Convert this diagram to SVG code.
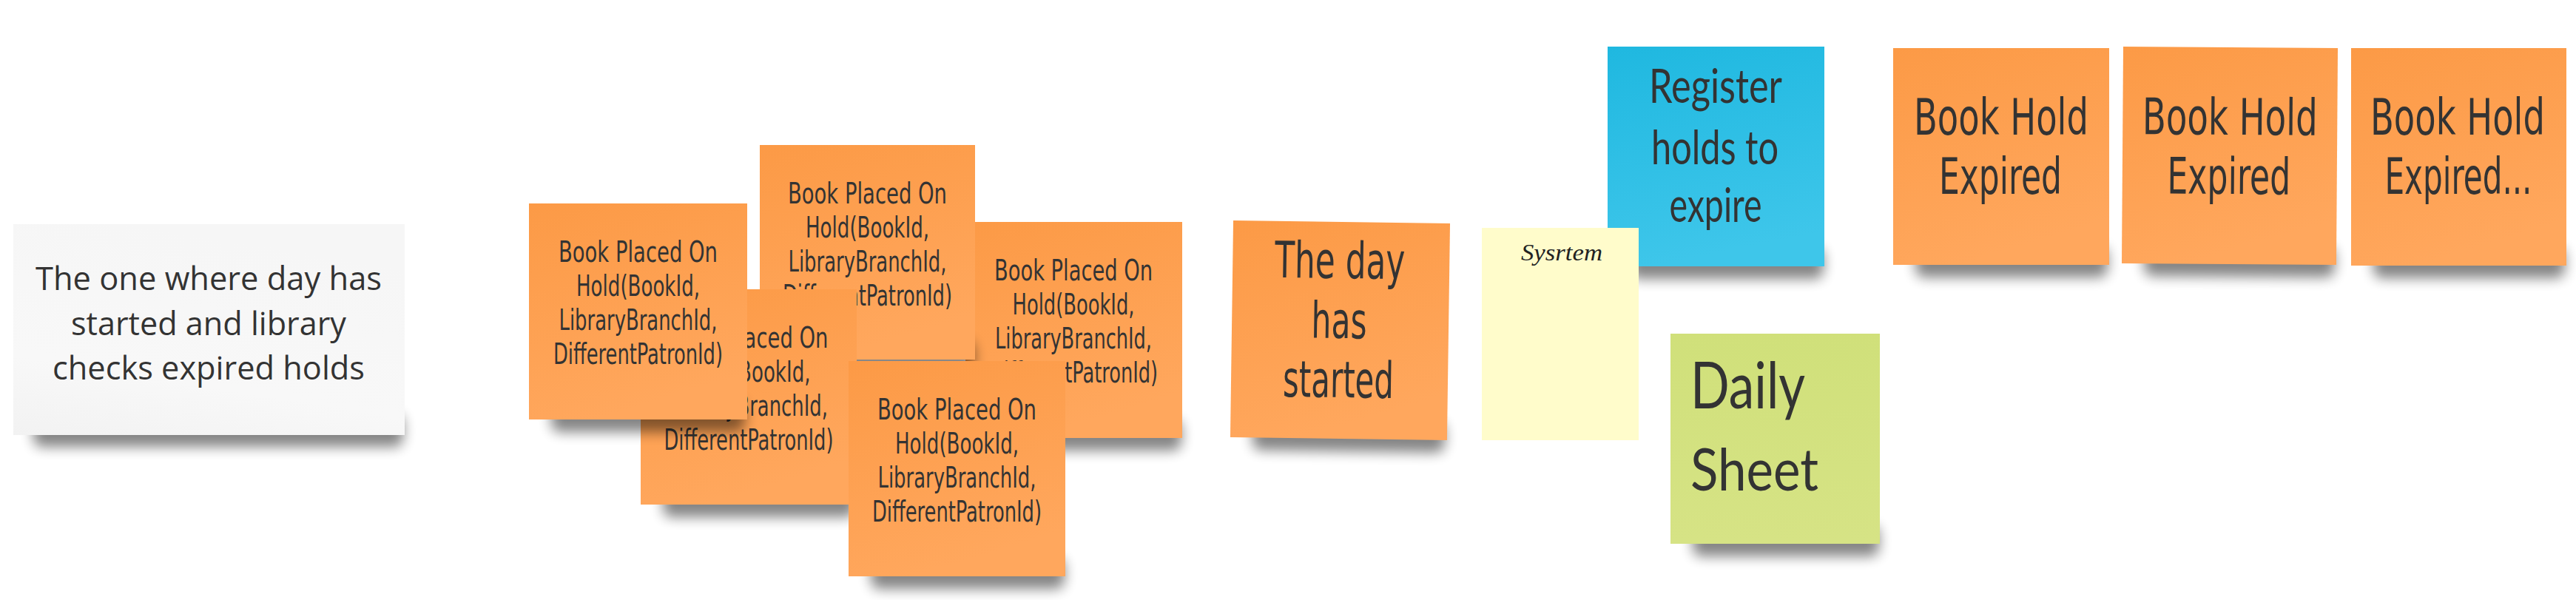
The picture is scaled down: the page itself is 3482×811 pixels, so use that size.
<svg xmlns="http://www.w3.org/2000/svg" width="3482" height="811" viewBox="0 0 3482 811">
<defs>
  <filter id="blur" x="-20%" y="-100%" width="140%" height="300%"><feGaussianBlur stdDeviation="8.5"/></filter>
  <linearGradient id="gOrange" x1="0" y1="0" x2="0.3" y2="1">
    <stop offset="0" stop-color="#FC9A46"/><stop offset="1" stop-color="#FFA75D"/>
  </linearGradient>
  <linearGradient id="gBlue" x1="0" y1="0" x2="0.2" y2="1">
    <stop offset="0" stop-color="#1FB8E0"/><stop offset="1" stop-color="#3EC6EA"/>
  </linearGradient>
  <linearGradient id="gGreen" x1="0" y1="0" x2="0" y2="1">
    <stop offset="0" stop-color="#D0E07A"/><stop offset="1" stop-color="#D6E385"/>
  </linearGradient>
  <linearGradient id="gCard" x1="0" y1="1" x2="0.3" y2="0">
    <stop offset="0" stop-color="#F2F2F2"/><stop offset="0.35" stop-color="#F8F8F8"/><stop offset="1" stop-color="#F6F6F6"/>
  </linearGradient>
</defs>
<style>
  .shadow { fill:#000; opacity:0.48; filter:url(#blur); }
  .orange { fill:url(#gOrange); }
  .hand { font-family:"Liberation Sans Narrow","DejaVu Sans Condensed","Liberation Sans",sans-serif; fill:#333; text-anchor:middle; }
  .small { font-size:39px; }
  .big { font-size:68px; }
  .round { font-family:"Lato","Liberation Sans",sans-serif; fill:#333; text-anchor:middle; font-size:64px; }
  .card-text { font-family:"Open Sans","Liberation Sans",sans-serif; font-size:44px; fill:#333; text-anchor:middle; }
  .script { font-family:"Liberation Serif","DejaVu Serif",serif; font-style:italic; font-size:32px; fill:#222; text-anchor:middle; }
</style>
<rect width="3482" height="811" fill="#FFFFFF"/>
<g id="connectors"/>

<g id="card-title">
  <rect class="shadow" x="45" y="560" width="500" height="44" rx="12"/>
  <rect x="18" y="303" width="529" height="285" fill="url(#gCard)"/>
  <text class="card-text" x="282" y="392" textLength="468" lengthAdjust="spacingAndGlyphs">The one where day has</text>
  <text class="card-text" x="282" y="453" textLength="372" lengthAdjust="spacingAndGlyphs">started and library</text>
  <text class="card-text" x="282" y="513" textLength="422" lengthAdjust="spacingAndGlyphs">checks expired holds</text>
</g>

<g id="hold-e">
  <rect class="shadow" x="1335" y="567" width="262" height="42" rx="12"/>
  <rect class="orange" x="1305" y="300" width="293" height="292"/>
  <text class="hand small" x="1451" y="379" textLength="214" lengthAdjust="spacingAndGlyphs">Book Placed On</text>
  <text class="hand small" x="1451" y="425" textLength="165" lengthAdjust="spacingAndGlyphs">Hold(BookId,</text>
  <text class="hand small" x="1451" y="471" textLength="212" lengthAdjust="spacingAndGlyphs">LibraryBranchId,</text>
  <text class="hand small" x="1451" y="517" textLength="228" lengthAdjust="spacingAndGlyphs">DifferentPatronId)</text>
</g>

<g id="hold-c">
  <rect class="shadow" x="1057" y="461" width="260" height="42" rx="12"/>
  <rect class="orange" x="1027" y="196" width="291" height="290"/>
  <text class="hand small" x="1172.5" y="275" textLength="215" lengthAdjust="spacingAndGlyphs">Book Placed On</text>
  <text class="hand small" x="1172.5" y="321" textLength="167" lengthAdjust="spacingAndGlyphs">Hold(BookId,</text>
  <text class="hand small" x="1172.5" y="367" textLength="214" lengthAdjust="spacingAndGlyphs">LibraryBranchId,</text>
  <text class="hand small" x="1172.5" y="413" textLength="229" lengthAdjust="spacingAndGlyphs">DifferentPatronId)</text>
</g>

<g id="hold-b">
  <rect class="shadow" x="896" y="657" width="260" height="42" rx="12"/>
  <rect class="orange" x="866" y="391" width="292" height="291"/>
  <text class="hand small" x="1012" y="470" textLength="215" lengthAdjust="spacingAndGlyphs">Book Placed On</text>
  <text class="hand small" x="1012" y="516" textLength="167" lengthAdjust="spacingAndGlyphs">Hold(BookId,</text>
  <text class="hand small" x="1012" y="562" textLength="214" lengthAdjust="spacingAndGlyphs">LibraryBranchId,</text>
  <text class="hand small" x="1012" y="608" textLength="229" lengthAdjust="spacingAndGlyphs">DifferentPatronId)</text>
</g>

<g id="hold-a">
  <rect class="shadow" x="745" y="542" width="262" height="42" rx="12"/>
  <rect class="orange" x="715" y="275" width="295" height="292"/>
  <text class="hand small" x="862.5" y="354" textLength="215" lengthAdjust="spacingAndGlyphs">Book Placed On</text>
  <text class="hand small" x="862.5" y="400" textLength="167" lengthAdjust="spacingAndGlyphs">Hold(BookId,</text>
  <text class="hand small" x="862.5" y="446" textLength="214" lengthAdjust="spacingAndGlyphs">LibraryBranchId,</text>
  <text class="hand small" x="862.5" y="492" textLength="229" lengthAdjust="spacingAndGlyphs">DifferentPatronId)</text>
</g>

<g id="hold-d">
  <rect class="shadow" x="1177" y="754" width="262" height="42" rx="12"/>
  <rect class="orange" x="1147" y="488" width="293" height="291"/>
  <text class="hand small" x="1293.5" y="567" textLength="215" lengthAdjust="spacingAndGlyphs">Book Placed On</text>
  <text class="hand small" x="1293.5" y="613" textLength="167" lengthAdjust="spacingAndGlyphs">Hold(BookId,</text>
  <text class="hand small" x="1293.5" y="659" textLength="214" lengthAdjust="spacingAndGlyphs">LibraryBranchId,</text>
  <text class="hand small" x="1293.5" y="705" textLength="229" lengthAdjust="spacingAndGlyphs">DifferentPatronId)</text>
</g>

<g id="day-started" transform="rotate(0.8 1811 446)">
  <rect class="shadow" x="1695" y="568" width="260" height="42" rx="12"/>
  <rect class="orange" x="1665" y="300" width="293" height="293"/>
  <text class="hand big" x="1810" y="376" textLength="176" lengthAdjust="spacingAndGlyphs">The day</text>
  <text class="hand big" x="1810" y="457" textLength="75" lengthAdjust="spacingAndGlyphs">has</text>
  <text class="hand big" x="1810" y="537" textLength="150" lengthAdjust="spacingAndGlyphs">started</text>
</g>

<g id="register-holds">
  <rect class="shadow" x="2203" y="335" width="262" height="42" rx="12"/>
  <rect x="2173" y="63" width="293" height="297" fill="url(#gBlue)"/>
  <text class="round" x="2319" y="139" textLength="180" lengthAdjust="spacingAndGlyphs">Register</text>
  <text class="round" x="2318" y="222" textLength="172" lengthAdjust="spacingAndGlyphs">holds to</text>
  <text class="round" x="2319" y="300" textLength="125" lengthAdjust="spacingAndGlyphs">expire</text>
</g>

<g id="system">
  <rect x="2003" y="308" width="212" height="287" fill="#FFFCCB"/>
  <text class="script" x="2111" y="352" textLength="110" lengthAdjust="spacingAndGlyphs">Sysrtem</text>
</g>

<g id="daily-sheet">
  <rect class="shadow" x="2288" y="710" width="252" height="42" rx="12"/>
  <rect x="2258" y="451" width="283" height="284" fill="url(#gGreen)"/>
  <text class="round" x="2285" y="552" style="font-size:88px;text-anchor:start" textLength="155" lengthAdjust="spacingAndGlyphs">Daily</text>
  <text class="round" x="2285" y="663" style="font-size:80px;text-anchor:start" textLength="173" lengthAdjust="spacingAndGlyphs">Sheet</text>
</g>

<g id="hold-expired-1">
  <rect class="shadow" x="2589" y="333" width="260" height="42" rx="12"/>
  <rect class="orange" x="2559" y="65" width="292" height="293"/>
  <text class="hand big" x="2705" y="182" textLength="236" lengthAdjust="spacingAndGlyphs">Book Hold</text>
  <text class="hand big" x="2704" y="262" textLength="166" lengthAdjust="spacingAndGlyphs">Expired</text>
</g>

<g id="hold-expired-2" transform="rotate(0.4 3014 210)">
  <rect class="shadow" x="2899" y="332" width="258" height="42" rx="12"/>
  <rect class="orange" x="2869" y="64" width="290" height="293"/>
  <text class="hand big" x="3014" y="182" textLength="237" lengthAdjust="spacingAndGlyphs">Book Hold</text>
  <text class="hand big" x="3013" y="262" textLength="167" lengthAdjust="spacingAndGlyphs">Expired</text>
</g>

<g id="hold-expired-3">
  <rect class="shadow" x="3208" y="334" width="259" height="42" rx="12"/>
  <rect class="orange" x="3178" y="65" width="291" height="294"/>
  <text class="hand big" x="3322" y="182" textLength="236" lengthAdjust="spacingAndGlyphs">Book Hold</text>
  <text class="hand big" x="3323" y="262" textLength="199" lengthAdjust="spacingAndGlyphs">Expired...</text>
</g>
</svg>
